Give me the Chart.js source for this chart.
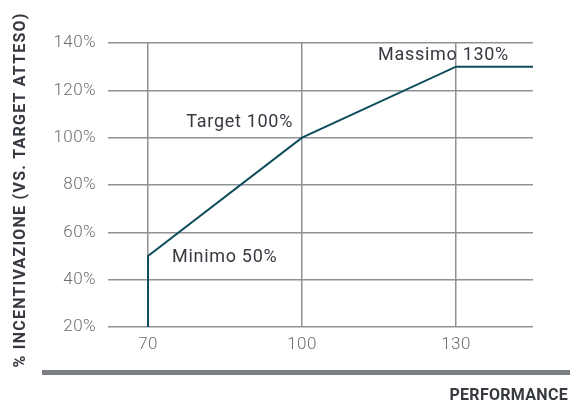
<!DOCTYPE html>
<html>
<head>
<meta charset="utf-8">
<script src="https://cdn.jsdelivr.net/npm/chart.js@4/dist/chart.umd.min.js"></script>
<style>
  html, body { margin: 0; padding: 0; background: #ffffff; }
  #wrap { width: 572px; height: 403px; position: relative; }
</style>
</head>
<body>
<div id="wrap"><canvas id="chart" width="572" height="403"></canvas></div>
<script>
// Incentive curve: payout share against performance level
const performance = [70, 70, 100, 130, 145];
const incentive = [20, 50, 100, 130, 130];

// Axis ticks
const xTicks = [70, 100, 130];
const yTicks = [20, 40, 60, 80, 100, 120, 140];

// Named thresholds along the curve (index into the series above)
const milestoneNames = ['Minimo', 'Target', 'Massimo'];
const milestoneIndex = [1, 2, 3];

const yTitle = '% INCENTIVAZIONE (VS. TARGET ATTESO)';
const xTitle = 'PERFORMANCE';

const FONT = 'Roboto, "DejaVu Sans", sans-serif';
const LINE_COLOR = '#0e4d5c';
const GRID_COLOR = '#8e9196';
const TICK_COLOR = '#6b6e73';
const TEXT_COLOR = '#363940';

// Where each milestone label sits relative to its point
const labelPlacement = [
  { align: 'left',  dx: 24,  dy: 1 },
  { align: 'right', dx: -9,  dy: -15 },
  { align: 'right', dx: 53,  dy: -11 }
];

// Slightly open letter spacing for the tick labels
const tickSpacing = {
  id: 'tickSpacing',
  beforeDraw(chart) { chart.ctx.letterSpacing = '0.4px'; }
};

const decorations = {
  id: 'decorations',
  afterDatasetsDraw(chart) {
    const { ctx, scales: { x, y } } = chart;
    ctx.save();

    // milestone labels
    ctx.font = '400 18px ' + FONT;
    ctx.letterSpacing = '0.7px';
    ctx.fillStyle = TEXT_COLOR;
    ctx.textBaseline = 'middle';
    milestoneIndex.forEach((idx, i) => {
      const px = x.getPixelForValue(performance[idx]);
      const py = y.getPixelForValue(incentive[idx]);
      const p = labelPlacement[i];
      ctx.textAlign = p.align;
      ctx.fillText(milestoneNames[i] + ' ' + incentive[idx] + '%', px + p.dx, py + p.dy);
    });

    // rotated y title, spaced to run from 13px to 368px
    ctx.save();
    ctx.translate(21, 190.5);
    ctx.rotate(-Math.PI / 2);
    ctx.font = 'bold 16px ' + FONT;
    ctx.letterSpacing = '0px';
    const w = ctx.measureText(yTitle).width;
    const sp = (355 - w) / yTitle.length;
    ctx.letterSpacing = sp.toFixed(2) + 'px';
    ctx.fillStyle = TEXT_COLOR;
    ctx.textAlign = 'center';
    ctx.textBaseline = 'middle';
    ctx.fillText(yTitle, sp / 2, 0);
    ctx.restore();

    // baseline bar under the x axis
    ctx.fillStyle = '#7b7e83';
    ctx.fillRect(42, 370, 528, 5);

    // x title
    ctx.font = 'bold 16px ' + FONT;
    ctx.fillStyle = TEXT_COLOR;
    ctx.textAlign = 'right';
    ctx.textBaseline = 'alphabetic';
    ctx.letterSpacing = '0.3px';
    ctx.fillText(xTitle, 568, 400);

    ctx.restore();
  }
};

new Chart(document.getElementById('chart'), {
  type: 'line',
  data: {
    datasets: [{
      data: performance.map((v, i) => ({ x: v, y: incentive[i] })),
      borderColor: LINE_COLOR,
      borderWidth: 2,
      pointRadius: 0,
      tension: 0,
      fill: false
    }]
  },
  options: {
    responsive: false,
    animation: false,
    devicePixelRatio: 1,
    layout: { padding: { top: 43, right: 39, left: 0, bottom: 0 } },
    plugins: { legend: { display: false }, tooltip: { enabled: false } },
    scales: {
      x: {
        type: 'linear',
        min: 62.2,
        max: 145,
        afterBuildTicks(scale) { scale.ticks = xTicks.map(v => ({ value: v })); },
        afterFit(scale) { scale.height = 76; },
        border: { display: false },
        grid: { color: GRID_COLOR, lineWidth: 1.5, drawTicks: false },
        ticks: { color: TICK_COLOR, padding: 8, font: { family: FONT, size: 17, weight: 300 } }
      },
      y: {
        type: 'linear',
        min: yTicks[0],
        max: yTicks[yTicks.length - 1],
        afterBuildTicks(scale) { scale.ticks = yTicks.map(v => ({ value: v })); },
        afterFit(scale) { scale.width = 108; },
        border: { display: false },
        grid: { color: GRID_COLOR, lineWidth: 1.5, drawTicks: false },
        ticks: {
          color: TICK_COLOR, padding: 12,
          font: { family: FONT, size: 17, weight: 300 },
          callback: v => v + '%'
        }
      }
    }
  },
  plugins: [tickSpacing, decorations]
});
</script>
</body>
</html>
